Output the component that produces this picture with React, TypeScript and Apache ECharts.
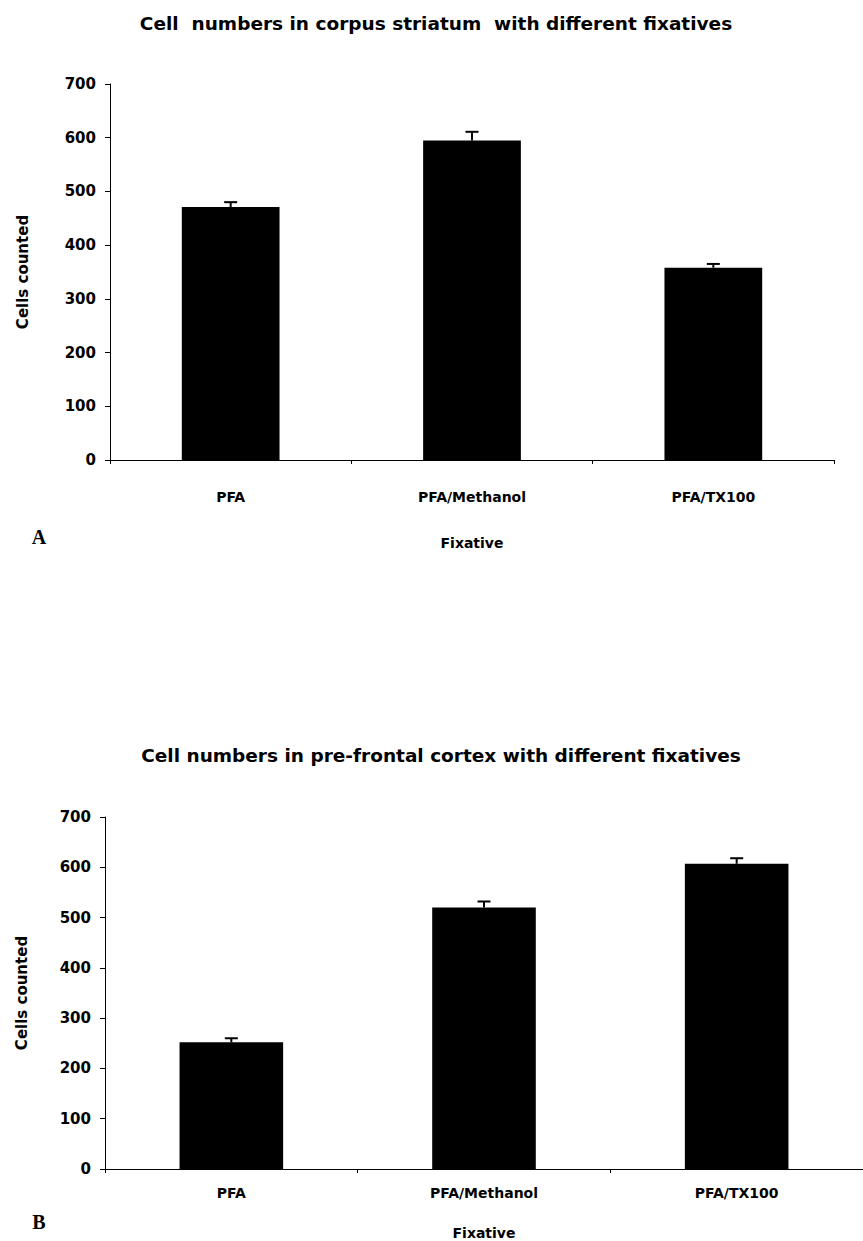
import React, { useEffect, useRef } from "react";
import * as echarts from "echarts";

const categories = ["PFA", "PFA/Methanol", "PFA/TX100"];
const striatumValues = [471, 595, 358];
const striatumErrors = [9, 16, 7];
const cortexValues = [252, 520, 607];
const cortexErrors = [8, 12, 11];
const yTicks = { min: 0, max: 700, interval: 100 };

const titleA = "Cell  numbers in corpus striatum  with different fixatives";
const titleB = "Cell numbers in pre-frontal cortex with different fixatives";
const yName = "Cells counted";
const xName = "Fixative";

const FONT = "'DejaVu Sans', 'Liberation Sans', sans-serif";

function errorSeries(gridIdx: number, values: number[], errors: number[]) {
  return {
    type: "custom",
    xAxisIndex: gridIdx,
    yAxisIndex: gridIdx,
    z: 5,
    data: values.map((v, i) => [i, v, errors[i]]),
    encode: { x: 0, y: 1 },
    renderItem: (params: any, api: any) => {
      const x = api.value(0);
      const v = api.value(1);
      const e = api.value(2);
      const base = api.coord([x, v]);
      const top = api.coord([x, v + e]);
      const st = { stroke: "#000", lineWidth: 2 };
      return {
        type: "group",
        children: [
          { type: "line", shape: { x1: base[0], y1: base[1], x2: top[0], y2: top[1] }, style: st },
          { type: "line", shape: { x1: top[0] - 6.5, y1: top[1], x2: top[0] + 6.5, y2: top[1] }, style: st },
        ],
      };
    },
  };
}

function xAxis(gridIdx: number, nameGap: number, labelMargin: number) {
  return {
    type: "category",
    gridIndex: gridIdx,
    data: categories,
    name: xName,
    nameLocation: "middle",
    nameGap,
    nameTextStyle: { fontFamily: FONT, fontWeight: "bold", fontSize: 14, color: "#000" },
    axisLine: { lineStyle: { color: "#000", width: 1 } },
    axisTick: { show: true, length: 4, lineStyle: { color: "#000" } },
    axisLabel: { fontFamily: FONT, fontWeight: "bold", fontSize: 14, color: "#000", margin: labelMargin },
    splitLine: { show: false },
  };
}

function yAxis(gridIdx: number, nameGap: number) {
  return {
    type: "value",
    gridIndex: gridIdx,
    min: yTicks.min,
    max: yTicks.max,
    interval: yTicks.interval,
    name: yName,
    nameLocation: "middle",
    nameRotate: 90,
    nameGap,
    nameTextStyle: { fontFamily: FONT, fontWeight: "bold", fontSize: 15, color: "#000" },
    axisLine: { show: true, lineStyle: { color: "#000", width: 1 } },
    axisTick: { show: true, length: 5, lineStyle: { color: "#000" } },
    axisLabel: { fontFamily: FONT, fontWeight: "bold", fontSize: 15, color: "#000", margin: 14 },
    splitLine: { show: false },
  };
}

export default function App() {
  const ref = useRef<HTMLDivElement>(null);
  useEffect(() => {
    if (!ref.current) return;
    const chart = echarts.init(ref.current, undefined, { renderer: "svg" });
    chart.setOption({
      animation: false,
      backgroundColor: "#fff",
      grid: [
        { left: 110, top: 84, width: 724, height: 376 },
        { left: 105, top: 817, width: 767, height: 352 },
      ],
      xAxis: [xAxis(0, 76, 30), xAxis(1, 57, 17)],
      yAxis: [yAxis(0, 80), yAxis(1, 76)],
      series: [
        {
          type: "bar",
          xAxisIndex: 0,
          yAxisIndex: 0,
          data: striatumValues,
          barWidth: "40.5%",
          itemStyle: { color: "#000" },
        },
        errorSeries(0, striatumValues, striatumErrors),
        {
          type: "bar",
          xAxisIndex: 1,
          yAxisIndex: 1,
          data: cortexValues,
          barWidth: "41%",
          itemStyle: { color: "#000" },
        },
        errorSeries(1, cortexValues, cortexErrors),
      ],
      graphic: [
        {
          type: "text",
          x: 436,
          y: 23,
          style: { text: titleA, font: `bold 18.5px ${FONT}`, fill: "#000", align: "center", verticalAlign: "middle" },
        },
        {
          type: "text",
          x: 441,
          y: 755,
          style: { text: titleB, font: `bold 18.5px ${FONT}`, fill: "#000", align: "center", verticalAlign: "middle" },
        },
        {
          type: "text",
          x: 39,
          y: 537,
          style: { text: "A", font: "bold 20px 'Liberation Serif', 'DejaVu Serif', serif", fill: "#000", align: "center", verticalAlign: "middle" },
        },
        {
          type: "text",
          x: 39,
          y: 1222,
          style: { text: "B", font: "bold 20px 'Liberation Serif', 'DejaVu Serif', serif", fill: "#000", align: "center", verticalAlign: "middle" },
        },
      ],
    });
    return () => chart.dispose();
  }, []);
  return (
    <div
      ref={ref}
      style={{ position: "absolute", left: 0, top: 0, width: 863, height: 1241 }}
    />
  );
}
